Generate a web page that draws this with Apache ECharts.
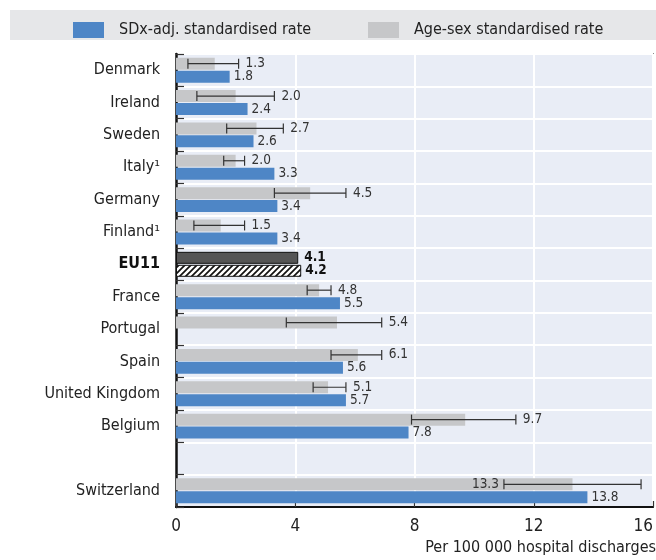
<!DOCTYPE html>
<html><head><meta charset="utf-8">
<script src="https://cdn.jsdelivr.net/npm/echarts@6/dist/echarts.min.js"></script>
<style>html,body{margin:0;padding:0;background:#fff}#c{width:656px;height:560px}</style>
</head><body><div id="c"></div>
<script>
const categories = ['Denmark','Ireland','Sweden','Italy¹','Germany','Finland¹','EU11','France','Portugal','Spain','United Kingdom','Belgium','','Switzerland'];
const sdxRate    = [1.8, 2.4, 2.6, 3.3, 3.4, 3.4, 4.2, 5.5, null, 5.6, 5.7, 7.8, null, 13.8];
const ageSexRate = [1.3, 2.0, 2.7, 2.0, 4.5, 1.5, 4.1, 4.8, 5.4, 6.1, 5.1, 9.7, null, 13.3];
const ciLow      = [0.4, 0.7, 1.7, 1.6, 3.3, 0.6, null, 4.4, 3.7, 5.2, 4.6, 7.9, null, 11.0];
const ciHigh     = [2.1, 3.3, 3.6, 2.3, 5.7, 2.3, null, 5.2, 6.9, 6.9, 5.7, 11.4, null, 15.6];
const xMin = 0, xMax = 16, xStep = 4;
const legendNames = ['SDx-adj. standardised rate', 'Age-sex standardised rate'];
const xTitle = 'Per 100 000 hospital discharges';

const FONT = '"Liberation Sans Narrow", "Arial Narrow", "DejaVu Sans Condensed", sans-serif';
const BLUE = '#4e86c6', GREY = '#c6c7c9';
const BAR_W = 12;
const euIdx = categories.indexOf('EU11');

const hatch = document.createElement('canvas');
hatch.width = 6; hatch.height = 6;
const g = hatch.getContext('2d');
g.fillStyle = '#fff'; g.fillRect(0, 0, 6, 6);
g.strokeStyle = '#111'; g.lineWidth = 1.7;
g.beginPath();
g.moveTo(-1, 7); g.lineTo(7, -1);
g.moveTo(-4, 4); g.lineTo(4, -4);
g.moveTo(2, 10); g.lineTo(10, 2);
g.stroke();

const chart = echarts.init(document.getElementById('c'), null, {renderer: 'canvas'});

const greyData = ageSexRate.map((v, i) => i === euIdx ? {
  value: v,
  itemStyle: {color: '#555', borderColor: '#111', borderWidth: 1},
  label: {show: true, position: 'right', distance: 6, fontWeight: 'bold', color: '#111', fontSize: 13.5, fontFamily: FONT, formatter: p => p.value.toFixed(1)}
} : v);
const blueData = sdxRate.map((v, i) => i === euIdx ? {
  value: v,
  itemStyle: {color: {image: hatch, repeat: 'repeat'}, borderColor: '#111', borderWidth: 1},
  label: {fontWeight: 'bold', color: '#111'}
} : v);
const errData = [];
ciLow.forEach((lo, i) => { if (lo != null) errData.push([i, lo, ciHigh[i], ageSexRate[i]]); });

const option = {
  animation: false,
  textStyle: {fontFamily: FONT},
  graphic: [
    {type: 'rect', shape: {x: 10, y: 10, width: 646, height: 30}, style: {fill: '#e6e7e9'}, z: -1},
    {type: 'text', right: 0, top: 540, style: {text: xTitle, font: '16px ' + FONT, fill: '#222', textAlign: 'right'}}
  ],
  legend: [
    {data: [legendNames[0]], left: 68, top: 17, itemWidth: 31, itemHeight: 16, icon: 'rect', itemGap: 10,
     textStyle: {fontSize: 16, color: '#222', fontFamily: FONT, padding: [0, 0, 0, 10]}},
    {data: [legendNames[1]], left: 363, top: 17, itemWidth: 31, itemHeight: 16, icon: 'rect', itemGap: 10,
     textStyle: {fontSize: 16, color: '#222', fontFamily: FONT, padding: [0, 0, 0, 10]}}
  ],
  grid: {left: 176, right: 0, top: 54, bottom: 53, show: true, backgroundColor: '#e9edf6', borderColor: '#333', borderWidth: 1.5},
  xAxis: {
    type: 'value', min: xMin, max: xMax, interval: xStep,
    axisLine: {show: true, lineStyle: {color: '#111', width: 2}},
    axisTick: {show: true, inside: true, length: 6, lineStyle: {color: '#333', width: 1.2}},
    axisLabel: {fontSize: 17, color: '#222', margin: 11, fontFamily: FONT, alignMaxLabel: 'right'},
    splitLine: {show: true, lineStyle: {color: '#fff', width: 2}}
  },
  yAxis: {
    type: 'category', data: categories, inverse: true,
    axisLine: {show: true, lineStyle: {color: '#111', width: 2.5}},
    axisTick: {show: true, inside: true, length: 8, lineStyle: {color: '#333', width: 1.2}},
    axisLabel: {fontSize: 16, color: '#222', margin: 16, fontFamily: FONT,
      formatter: v => v === 'EU11' ? '{b|' + v + '}' : v,
      rich: {b: {fontWeight: 'bold', fontSize: 16, color: '#111', fontFamily: FONT}}},
    splitLine: {show: true, lineStyle: {color: '#fff', width: 2}}
  },
  series: [
    {name: legendNames[1], type: 'bar', data: greyData, barWidth: BAR_W, barGap: '8%',
     itemStyle: {color: GREY}, z: 2},
    {name: legendNames[0], type: 'bar', data: blueData, barWidth: BAR_W, barGap: '8%',
     itemStyle: {color: BLUE}, z: 2,
     label: {show: true, position: 'right', distance: 4, fontSize: 13.5, color: '#333', fontFamily: FONT,
       formatter: p => p.value == null ? '' : Number(p.value).toFixed(1)}},
    {name: 'err', type: 'custom', data: errData, encode: {y: 0, x: [1, 2]}, z: 4,
     renderItem(params, api) {
       const i = api.value(0), lo = api.value(1), hi = api.value(2), v = api.value(3);
       const pLo = api.coord([lo, i]), pHi = api.coord([hi, i]);
       const y = pLo[1] - (BAR_W / 2 + 0.5);
       const cs = params.coordSys;
       const fitsRight = pHi[0] + 30 <= cs.x + cs.width;
       const st = {stroke: '#333', lineWidth: 1.2};
       return {type: 'group', children: [
         {type: 'line', shape: {x1: pLo[0], y1: y, x2: pHi[0], y2: y}, style: st},
         {type: 'line', shape: {x1: pLo[0], y1: y - 5, x2: pLo[0], y2: y + 5}, style: st},
         {type: 'line', shape: {x1: pHi[0], y1: y - 5, x2: pHi[0], y2: y + 5}, style: st},
         {type: 'text', x: fitsRight ? pHi[0] + 7 : pLo[0] - 5, y: y,
          style: {text: v.toFixed(1), textAlign: fitsRight ? 'left' : 'right', textVerticalAlign: 'middle',
                  font: '13.5px ' + FONT, fill: '#333'}}
       ]};
     }}
  ]
};
chart.setOption(option);
</script>
</body></html>
